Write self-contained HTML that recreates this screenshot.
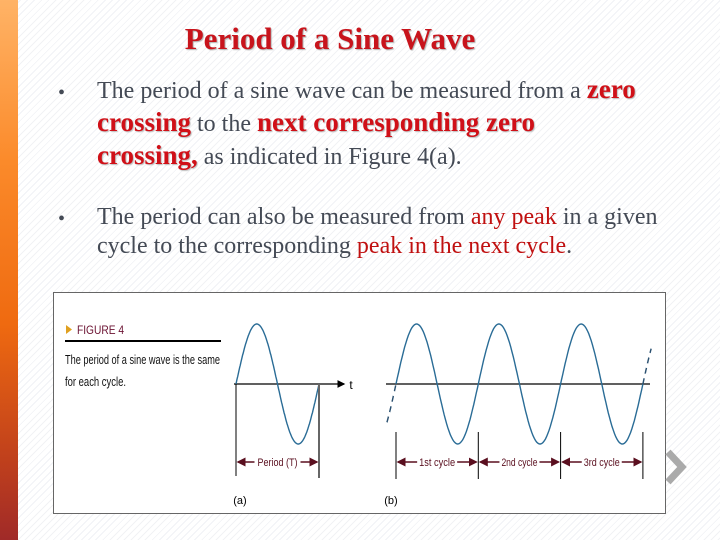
<!DOCTYPE html>
<html><head><meta charset="utf-8">
<style>
html,body{margin:0;padding:0}
body{width:720px;height:540px;position:relative;overflow:hidden;font-family:"Liberation Serif",serif;
background:repeating-linear-gradient(135deg,#ffffff 0 4px,#f1f2f5 4px 5px);}
#bar{position:absolute;left:0;top:0;width:18px;height:540px;background:linear-gradient(#ffb366 0%,#fb8a2a 30%,#ef6a10 60%,#c0401c 85%,#a02a28 100%)}
#title{position:absolute;left:0;top:21px;width:660px;text-align:center;font-weight:bold;font-size:31px;color:#c8141c;text-shadow:1px 1px 1px #b0b0b0}
.line{position:absolute;left:97px;font-size:24px;color:#444a55;white-space:nowrap}
.bullet{position:absolute;left:58px;font-size:20px;color:#444a55}
.r{color:#d01018;font-weight:bold;text-shadow:1px 1px 1px #bbb;font-size:27px;line-height:20px}
.r2{color:#c01010}
#fig{position:absolute;left:0;top:0}
</style></head><body>
<div id="bar"></div>
<div id="title">Period of a Sine Wave</div>
<div class="bullet" style="top:82px">•</div>
<div class="line" style="top:78px">The period of a sine wave can be measured from a <span class="r">zero</span></div>
<div class="line" style="top:111px"><span class="r">crossing</span> to the <span class="r">next corresponding zero</span></div>
<div class="line" style="top:144px"><span class="r">crossing,</span> as indicated in Figure 4(a).</div>
<div class="bullet" style="top:208px">•</div>
<div class="line" style="top:204px">The period can also be measured from <span class="r2">any peak</span> in a given</div>
<div class="line" style="top:233px">cycle to the corresponding <span class="r2">peak in the next cycle</span>.</div>

<svg id="fig" width="720" height="540">
<defs><marker id="ah" markerWidth="6" markerHeight="6" refX="5" refY="3" orient="auto"><path d="M0,0 L6,3 L0,6 z" fill="#5a0f1f"/></marker>
<marker id="ahb" markerWidth="6" markerHeight="6" refX="5" refY="3" orient="auto"><path d="M0,0 L6,3 L0,6 z" fill="#000"/></marker></defs>
<rect x="53.5" y="292.5" width="612" height="221" fill="#fff" stroke="#666"/>
<path d="M66,325 L72,329.5 L66,334 z" fill="#e0a020"/>
<text x="77" y="334" font-family="Liberation Sans Narrow,Liberation Sans,sans-serif" font-size="12" fill="#6a1030" transform="translate(77,0) scale(0.85,1) translate(-77,0)">FIGURE 4</text>
<rect x="65" y="340" width="156" height="2" fill="#000"/>
<text x="65" y="364" font-family="Liberation Sans Narrow,Liberation Sans,sans-serif" font-size="13" fill="#111" textLength="155" lengthAdjust="spacingAndGlyphs">The period of a sine wave is the same</text>
<text x="65" y="386" font-family="Liberation Sans Narrow,Liberation Sans,sans-serif" font-size="13" fill="#111" textLength="61" lengthAdjust="spacingAndGlyphs">for each cycle.</text>
<g id="plots"></g>
</svg>
<svg width="30" height="40" style="position:absolute;left:662px;top:448px"><path d="M6,4 L20,19 L6,34" fill="none" stroke="#aaa" stroke-width="7"/></svg>
<script>
// wave data (time in cycles, amplitude normalized)
const amplitude = [1];
const cyclesA = [0, 1];
const cyclesB = [0, 1, 2, 3];
const cycleLabels = ["1st cycle", "2nd cycle", "3rd cycle"];
const periodLabel = ["Period (T)"];

const NS = "http://www.w3.org/2000/svg";
const g = document.getElementById('plots');
const yAxisZero = 384, yScale = 60;
const xA = t => 236 + t * 83;
const xB = t => 396 + t * 82.3;
const yv = v => yAxisZero - v * yScale;

function mk(tag, attrs){const e=document.createElementNS(NS,tag);for(const k in attrs)e.setAttribute(k,attrs[k]);g.appendChild(e);return e;}
function wave(xf, t0, t1, dash){
  let d="";
  for(let i=0;i<=200;i++){const t=t0+(t1-t0)*i/200;d+=(i?"L":"M")+xf(t).toFixed(1)+","+yv(amplitude[0]*Math.sin(2*Math.PI*t)).toFixed(1);}
  const p=mk('path',{d:d,fill:'none',stroke:'#2a6c96','stroke-width':1.4});
  if(dash){p.setAttribute('stroke-dasharray','6,5');p.setAttribute('stroke','#2a5070');}
  return p;
}
function txt(x,y,s,size,fill,name,len){
  const t=mk('text',{x:x,y:y,'font-family':'Liberation Sans Narrow,Liberation Sans,sans-serif','font-size':size,fill:fill,'text-anchor':'middle'});
  if(len){t.setAttribute('textLength',len);t.setAttribute('lengthAdjust','spacingAndGlyphs');}
  t.textContent=s;
  
  
  return t;
}
// (a)
let e=mk('line',{x1:234,y1:yAxisZero,x2:344,y2:yAxisZero,stroke:'#000','stroke-width':1.3,'marker-end':'url(#ahb)'});


txt(351,389,'t',12,'#000','t-label');
e=wave(xA,cyclesA[0],cyclesA[cyclesA.length-1],false);


e=mk('line',{x1:xA(cyclesA[0]),y1:yAxisZero,x2:xA(cyclesA[0]),y2:476,stroke:'#000','stroke-width':1});


e=mk('line',{x1:xA(cyclesA[1]),y1:yAxisZero,x2:xA(cyclesA[1]),y2:478,stroke:'#666','stroke-width':2});


{const a=xA(cyclesA[0]),b=xA(cyclesA[1]),m=(a+b)/2;
e=mk('line',{x1:m-23,y1:462,x2:a+2,y2:462,stroke:'#5a0f1f','stroke-width':1.5,'marker-end':'url(#ah)'});


e=mk('line',{x1:m+23,y1:462,x2:b-2,y2:462,stroke:'#5a0f1f','stroke-width':1.5,'marker-end':'url(#ah)'});


txt(m,466,periodLabel[0],11,'#5a0f1f','period-label',40);}
txt(240,504,'(a)',11,'#000','label-a');
// (b)
e=mk('line',{x1:386,y1:yAxisZero,x2:650,y2:yAxisZero,stroke:'#000','stroke-width':1.3});


e=wave(xB,-0.11,0,true);


e=wave(xB,cyclesB[0],cyclesB[cyclesB.length-1],false);


e=wave(xB,cyclesB[cyclesB.length-1],cyclesB[cyclesB.length-1]+0.1,true);


cyclesB.forEach((c,i)=>{
  const l=mk('line',{x1:xB(c),y1:432,x2:xB(c),y2:479,stroke:'#000','stroke-width':1});
  
  
});
cycleLabels.forEach((s,i)=>{
  const a=xB(cyclesB[i]),b=xB(cyclesB[i+1]),m=(a+b)/2;
  let l=mk('line',{x1:m-20,y1:462,x2:a+2,y2:462,stroke:'#5a0f1f','stroke-width':1.5,'marker-end':'url(#ah)'});
  
  
  l=mk('line',{x1:m+20,y1:462,x2:b-2,y2:462,stroke:'#5a0f1f','stroke-width':1.5,'marker-end':'url(#ah)'});
  
  
  txt(m,466,s,11,'#5a0f1f','cycle-label',36);
});
txt(391,504,'(b)',11,'#000','label-b');
</script>
</body></html>
